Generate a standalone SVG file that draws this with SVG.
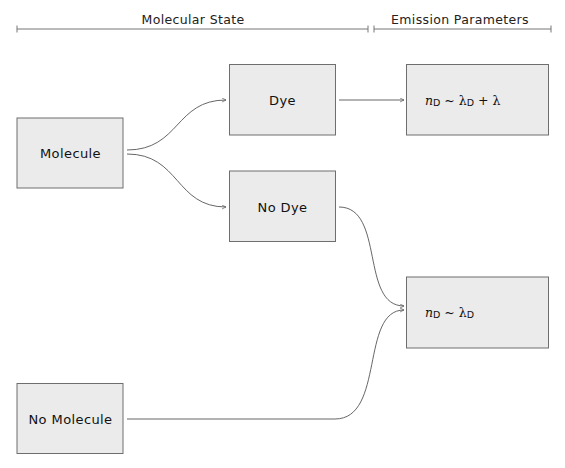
<svg xmlns="http://www.w3.org/2000/svg" width="565" height="468" viewBox="0 0 565 468">
<style>
.box{fill:#ebebeb;stroke:#6e6e6e;stroke-width:1}
.lbl{font-family:"DejaVu Sans",sans-serif;font-size:13px;fill:#111;text-anchor:middle;dominant-baseline:central;letter-spacing:0.4px}
.math{font-family:"DejaVu Serif",serif;font-size:12.5px;fill:#111;dominant-baseline:central}
.hdr{font-family:"DejaVu Sans",sans-serif;font-size:12.5px;fill:#222;text-anchor:middle;letter-spacing:0.35px}
.rule{stroke:#777;stroke-width:1;fill:none}
.edge{stroke:#555;stroke-width:0.9;fill:none;marker-end:url(#arr)}
</style>
<defs>
<marker id="arr" viewBox="0 0 6 6" refX="5" refY="3" markerWidth="5" markerHeight="5" orient="auto" markerUnits="userSpaceOnUse">
<path d="M0,0.5 L5,3 L0,5.5" fill="none" stroke="#555" stroke-width="0.8"/>
</marker>
</defs>
<rect width="565" height="468" fill="#fff"/>
<g id="headers">
<text class="hdr" x="193" y="24">Molecular State</text>
<path class="rule" d="M17,29 H368 M17,25.5 V32.5 M368,25.5 V32.5"/>
<text class="hdr" x="460" y="24">Emission Parameters</text>
<path class="rule" d="M374,29 H551 M374,25.5 V32.5 M551,25.5 V32.5"/>
</g>
<g id="connectors">
<path class="edge" d="M127,150 C180,150 175,100 226,100"/>
<path class="edge" d="M127,154 C180,154 175,207 226,207"/>
<path class="edge" d="M339,100 L404,100"/>
<path class="edge" d="M339,207 C385,207 360,306 404,306"/>
<path class="edge" d="M127,419 L335,419 C385,419 360,310 404,310"/>
</g>
<g id="molecule"><rect class="box" x="17" y="118" width="106" height="70"/><text class="lbl" x="70.5" y="153">Molecule</text></g>
<g id="no-molecule"><rect class="box" x="17" y="383.5" width="106" height="70"/><text class="lbl" x="70.5" y="419">No Molecule</text></g>
<g id="dye"><rect class="box" x="229.5" y="64.5" width="106" height="70.5"/><text class="lbl" x="282.5" y="100">Dye</text></g>
<g id="no-dye"><rect class="box" x="229.5" y="171" width="106" height="70.5"/><text class="lbl" x="282.5" y="207">No Dye</text></g>
<g id="param1"><rect class="box" x="406.5" y="64.5" width="142" height="70.5"/>
<text class="math" x="425" y="100"><tspan font-style="italic">n</tspan><tspan font-family="DejaVu Sans" font-size="9.5" dy="2">D</tspan><tspan dy="-2"> ~ λ</tspan><tspan font-family="DejaVu Sans" font-size="9.5" dy="2">D</tspan><tspan dy="-2"> + λ</tspan></text></g>
<g id="param2"><rect class="box" x="406.5" y="277" width="142" height="71"/>
<text class="math" x="425" y="312"><tspan font-style="italic">n</tspan><tspan font-family="DejaVu Sans" font-size="9.5" dy="2">D</tspan><tspan dy="-2"> ~ λ</tspan><tspan font-family="DejaVu Sans" font-size="9.5" dy="2">D</tspan></text></g>
</svg>
